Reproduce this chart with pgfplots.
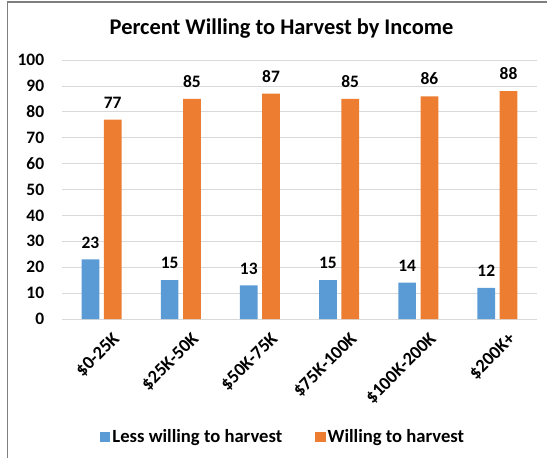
\documentclass[border=0pt]{standalone}
\usepackage{pgfplots}
\pgfplotsset{compat=1.18}
\usepackage{fontspec}
\setmainfont{Carlito}
\definecolor{cblue}{HTML}{5B9BD5}
\definecolor{corange}{HTML}{ED7D31}
\definecolor{gridc}{HTML}{D9D9D9}
\definecolor{framec}{HTML}{7F7F7F}
\newcommand{\lblfont}{\bfseries\fontsize{17.5}{20}\selectfont}
\newcommand{\xlblfont}{\bfseries\fontsize{18.5}{21}\selectfont}
\newcommand{\legfont}{\bfseries\fontsize{18.7}{21}\selectfont}
\begin{document}
\begin{tikzpicture}
\begin{axis}[
  scale only axis, width=475bp, height=259bp,
  xmin=-0.5, xmax=5.5, ymin=0, ymax=100,
  ytick={0,10,...,100},
  xtick={0,...,5},
  xticklabels={\$0-25K,\$25K-50K,\$50K-75K,\$75K-100K,\$100K-200K,\$200K+},
  ybar=4.6bp, bar width=17.7bp,
  axis line style={draw=none},
  major tick length=0pt,
  ymajorgrids, grid style={gridc, line width=0.8bp},
  /pgf/number format/assume math mode=true,
  yticklabel style={font=\lblfont, anchor=east, inner sep=0pt, xshift=-17.7bp},
  xticklabel style={font=\xlblfont, rotate=45, anchor=east, inner sep=0pt, xshift=-1.5bp, yshift=-23bp},
  nodes near coords,
  every node near coord/.append style={font=\lblfont, text=black, inner sep=0pt, yshift=11bp},
  legend style={at={(0.4653,-0.4556)}, anchor=center, draw=none, legend columns=2, font=\legfont,
    /tikz/every even column/.append style={column sep=31bp}},
  legend image code/.code={\fill[#1] (0bp,-5.25bp) rectangle (10.5bp,5.25bp);},
]
\addplot[fill=cblue, draw=none] coordinates {(0,23) (1,15) (2,13) (3,15) (4,14) (5,12)};
\addlegendentry{Less willing to harvest}
\addplot[fill=corange, draw=none] coordinates {(0,77) (1,85) (2,87) (3,85) (4,86) (5,88)};
\addlegendentry{Willing to harvest}
\end{axis}
\node[font=\bfseries\fontsize{22.5}{25}\selectfont, anchor=base] at (219.5bp,284.3bp) {Percent Willing to Harvest by Income};
\draw[framec, line width=1.2bp] (-54.5bp,-140bp) -- (-54.5bp,317bp) -- (486bp,317bp);
\pgfresetboundingbox
\path (-62bp,-139bp) rectangle (485bp,319bp);
\end{tikzpicture}
\end{document}
